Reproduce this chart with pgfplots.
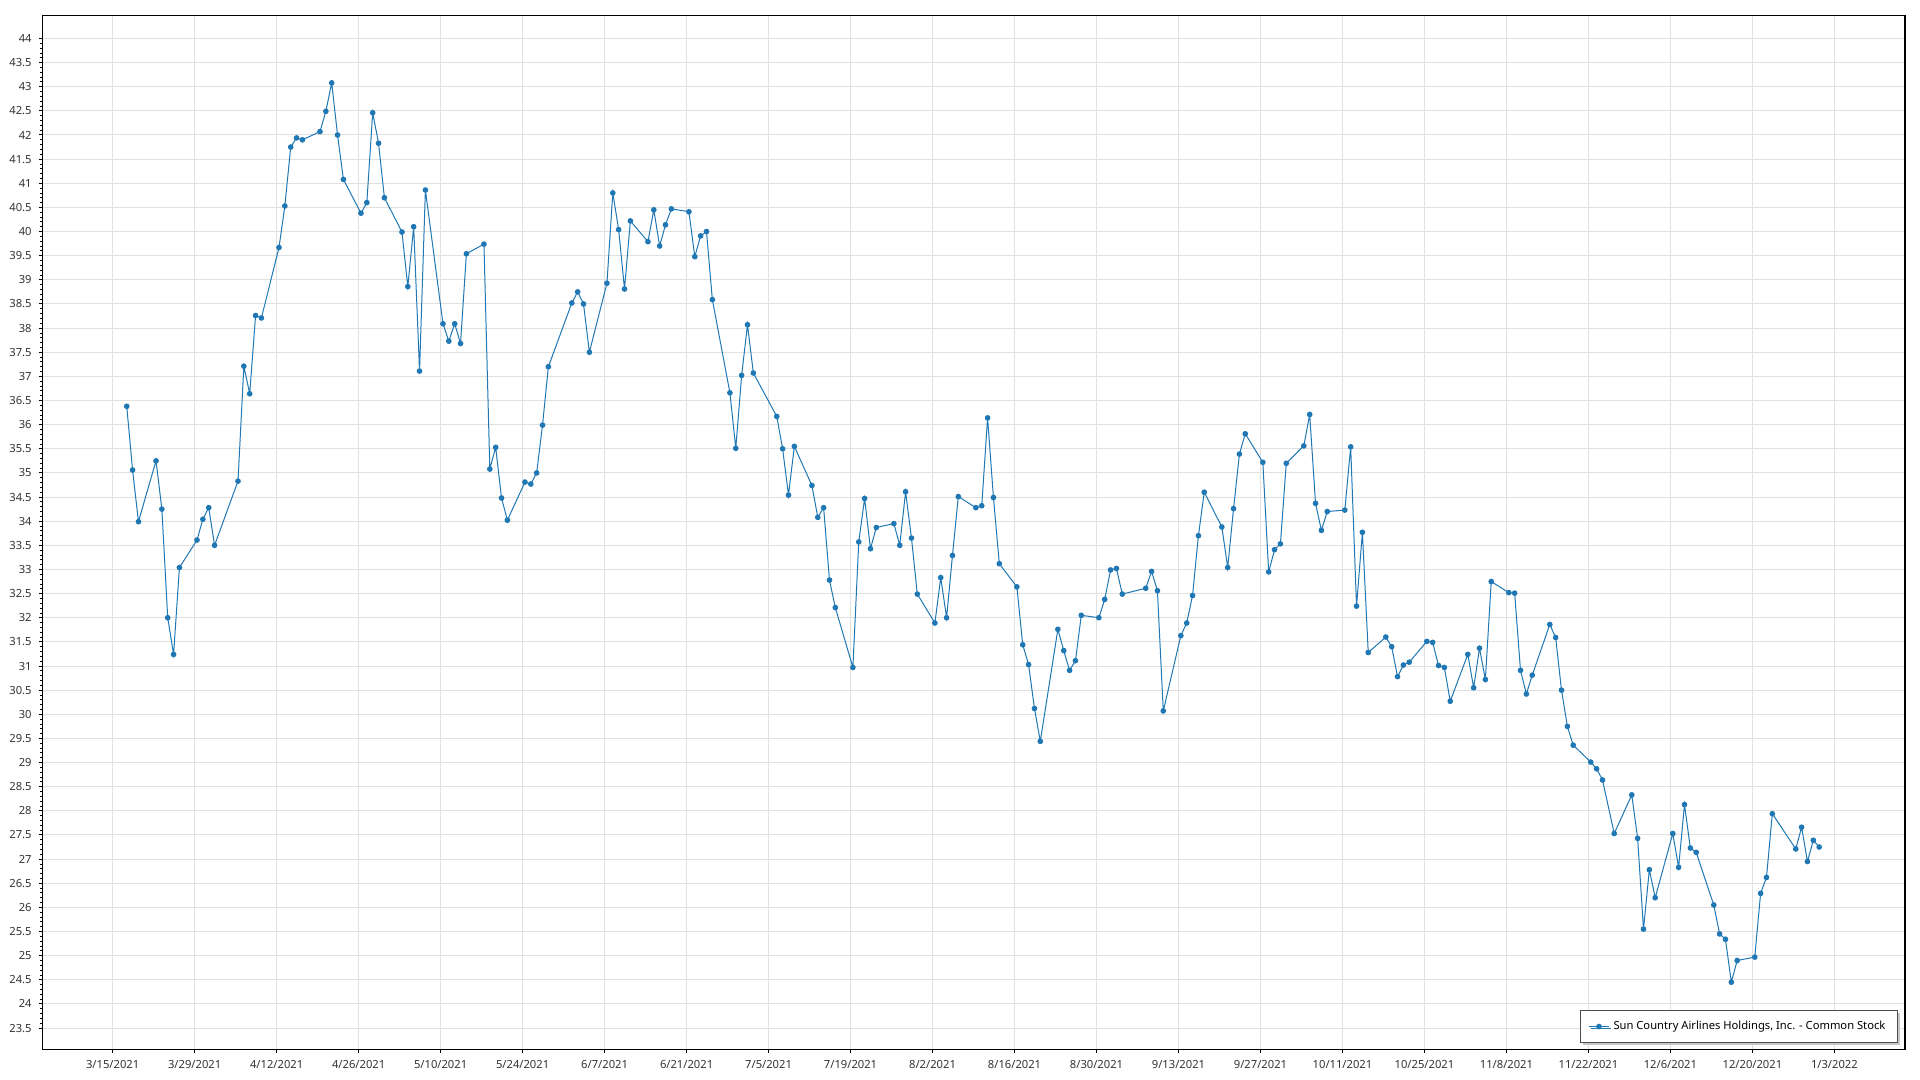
\documentclass[border=0pt]{standalone}
\usepackage{pgfplots}
\pgfplotsset{compat=1.18}
\usepackage{pgfplotstable}
\usepackage{fontspec}
\setmainfont{Noto Sans}
\usetikzlibrary{shadows}
\definecolor{series}{RGB}{31,119,180}
\definecolor{gridc}{RGB}{224,224,224}
\pgfplotstableread{
d v
2 36.38
3 35.06
4 33.99
7 35.25
8 34.25
9 32.00
10 31.24
11 33.04
14 33.61
15 34.04
16 34.28
17 33.50
21 34.83
22 37.21
23 36.64
24 38.26
25 38.21
28 39.67
29 40.53
30 41.75
31 41.94
32 41.90
35 42.07
36 42.49
37 43.08
38 42.00
39 41.08
42 40.38
43 40.60
44 42.46
45 41.83
46 40.70
49 39.99
50 38.86
51 40.10
52 37.11
53 40.86
56 38.09
57 37.73
58 38.09
59 37.68
60 39.54
63 39.74
64 35.08
65 35.53
66 34.48
67 34.02
70 34.81
71 34.77
72 35.00
73 35.99
74 37.20
78 38.52
79 38.75
80 38.50
81 37.50
84 38.93
85 40.80
86 40.04
87 38.81
88 40.22
91 39.79
92 40.45
93 39.70
94 40.14
95 40.47
98 40.41
99 39.48
100 39.91
101 40.00
102 38.59
105 36.66
106 35.51
107 37.02
108 38.07
109 37.07
113 36.17
114 35.50
115 34.54
116 35.55
119 34.74
120 34.08
121 34.28
122 32.78
123 32.21
126 30.97
127 33.57
128 34.47
129 33.43
130 33.87
133 33.95
134 33.50
135 34.61
136 33.65
137 32.49
140 31.89
141 32.83
142 32.00
143 33.29
144 34.51
147 34.28
148 34.32
149 36.14
150 34.49
151 33.12
154 32.64
155 31.44
156 31.03
157 30.12
158 29.44
161 31.76
162 31.32
163 30.91
164 31.11
165 32.05
168 32.00
169 32.38
170 32.99
171 33.02
172 32.49
176 32.61
177 32.96
178 32.56
179 30.07
182 31.63
183 31.89
184 32.46
185 33.70
186 34.60
189 33.88
190 33.04
191 34.26
192 35.39
193 35.81
196 35.22
197 32.95
198 33.41
199 33.53
200 35.20
203 35.56
204 36.21
205 34.37
206 33.81
207 34.20
210 34.23
211 35.54
212 32.24
213 33.77
214 31.28
217 31.60
218 31.40
219 30.78
220 31.02
221 31.08
224 31.51
225 31.49
226 31.01
227 30.97
228 30.27
231 31.24
232 30.55
233 31.37
234 30.72
235 32.75
238 32.52
239 32.51
240 30.91
241 30.42
242 30.81
245 31.86
246 31.59
247 30.50
248 29.75
249 29.36
252 29.01
253 28.87
254 28.64
256 27.53
259 28.33
260 27.43
261 25.55
262 26.78
263 26.20
266 27.53
267 26.83
268 28.13
269 27.23
270 27.14
273 26.05
274 25.45
275 25.34
276 24.45
277 24.90
280 24.97
281 26.29
282 26.62
283 27.94
287 27.21
288 27.66
289 26.95
290 27.39
291 27.25
}\stock
\begin{document}
\begin{tikzpicture}
\useasboundingbox (-21.35pt,-15.35pt) rectangle (938.65pt,524.65pt);
\begin{axis}[
  at={(0pt,0pt)}, anchor=south west, scale only axis,
  width=931.15pt, height=517pt,
  xmin=-11.95, xmax=306.06, ymin=23.06, ymax=44.48,
  xtick={0,14,28,42,56,70,84,98,112,126,140,154,168,182,196,210,224,238,252,266,280,294},
  xticklabels={3/15/2021,3/29/2021,4/12/2021,4/26/2021,5/10/2021,5/24/2021,6/7/2021,6/21/2021,7/5/2021,7/19/2021,8/2/2021,8/16/2021,8/30/2021,9/13/2021,9/27/2021,10/11/2021,10/25/2021,11/8/2021,11/22/2021,12/6/2021,12/20/2021,1/3/2022},
  ytick={23.5,24,24.5,25,25.5,26,26.5,27,27.5,28,28.5,29,29.5,30,30.5,31,31.5,32,32.5,33,33.5,34,34.5,35,35.5,36,36.5,37,37.5,38,38.5,39,39.5,40,40.5,41,41.5,42,42.5,43,43.5,44},
  minor y tick num=4,
  xtick pos=bottom, ytick pos=left,
  grid=major, major grid style={gridc, line width=0.5pt},
  tick align=outside, major tick length=2pt, minor tick length=1.2pt,
  every tick/.style={black, line width=0.5pt},
  minor tick style={black, line width=0.4pt},
  axis line style={black, line width=0.6pt},
  tick label style={font=\fontsize{5.6}{6.7}\selectfont, text=black!80},
  /pgf/number format/assume math mode=true,
  legend style={at={(rel axis cs:1,0)}, anchor=south east, xshift=-3.5pt, yshift=3.2pt,
    draw=black!70, line width=0.6pt, fill=white,
    drop shadow={shadow xshift=1.2pt, shadow yshift=-1.2pt, fill=black!22, opacity=1},
    font=\fontsize{5.6}{6.7}\selectfont, inner xsep=4pt, inner ysep=3pt},
  legend image code/.code={\draw[mark repeat=2, mark phase=2, #1] plot coordinates {(0pt,0pt) (5pt,0pt) (10pt,0pt)};},
]
\addplot[series, line width=0.5pt, mark=*, mark size=1.15pt, mark options={fill=series, draw=series}]
  table[x expr=\thisrow{d}+0.4, y=v] {\stock};
\addlegendentry{Sun Country Airlines Holdings, Inc. - Common Stock}
\end{axis}
\end{tikzpicture}
\end{document}
